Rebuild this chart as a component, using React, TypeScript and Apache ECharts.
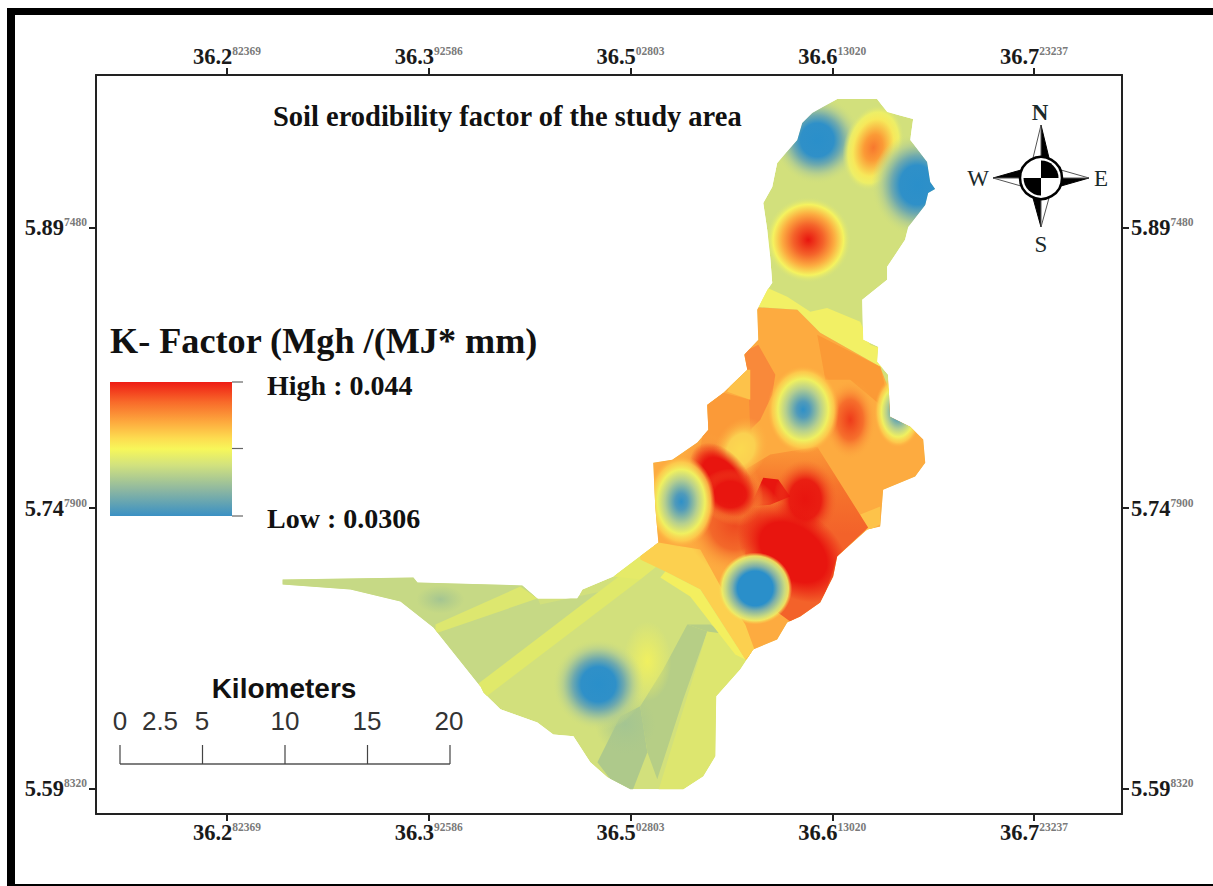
import React, { useEffect, useRef } from "react";
import * as echarts from "echarts";

const lonMin = 36.21078, lonMax = 36.77129, latMin = 5.58472, latMax = 5.97907;
const xTicks = [36.282369, 36.392586, 36.502803, 36.61302, 36.723237];
const xMain = ["36.2", "36.3", "36.5", "36.6", "36.7"];
const xSup = ["82369", "92586", "02803", "13020", "23237"];
const yTicks = [5.59832, 5.7479, 5.89748];
const yMain = ["5.59", "5.74", "5.89"];
const ySup = ["8320", "7900", "7480"];

const title = "Soil erodibility factor of the study area";
const legendTitle = "K- Factor (Mgh /(MJ* mm)";
const legendHigh = "High : 0.044";
const legendLow = "Low : 0.0306";
const scaleKm = [0, 2.5, 5, 10, 15, 20];

type P = [number, number];
const outline: P[] = [[36.6157,5.9662],[36.6375,5.9662],[36.643,5.9593],[36.6572,5.9556],[36.6556,5.9444],[36.6648,5.9327],[36.6665,5.922],[36.6692,5.9183],[36.6654,5.9161],[36.6638,5.9097],[36.6545,5.898],[36.6528,5.8911],[36.643,5.8767],[36.643,5.8698],[36.6294,5.8591],[36.6299,5.8378],[36.6381,5.834],[36.6375,5.8261],[36.6435,5.8191],[36.6446,5.7967],[36.6556,5.7914],[36.6627,5.7845],[36.6638,5.7722],[36.6583,5.7648],[36.6408,5.7578],[36.6392,5.7381],[36.6321,5.7365],[36.6157,5.7221],[36.6135,5.7115],[36.6064,5.6976],[36.5955,5.6901],[36.5884,5.6869],[36.5829,5.6779],[36.5698,5.6725],[36.5627,5.6619],[36.5496,5.6475],[36.5491,5.6155],[36.5425,5.6049],[36.5316,5.5979],[36.5027,5.5979],[36.4901,5.6043],[36.4808,5.6123],[36.4716,5.6262],[36.4606,5.6272],[36.4519,5.6336],[36.4317,5.6406],[36.4224,5.6496],[36.4208,5.6528],[36.3951,5.6843],[36.3771,5.6981],[36.3498,5.7045],[36.3127,5.7072],[36.3127,5.7099],[36.3842,5.7109],[36.3864,5.7083],[36.4437,5.7067],[36.4519,5.6997],[36.4737,5.6997],[36.4765,5.7045],[36.4934,5.7115],[36.518,5.7296],[36.5163,5.7488],[36.5152,5.7722],[36.5256,5.7738],[36.5393,5.7829],[36.5453,5.7898],[36.5447,5.8031],[36.5535,5.8095],[36.5666,5.8218],[36.5649,5.8298],[36.5726,5.8378],[36.572,5.8538],[36.5775,5.8644],[36.5802,5.8682],[36.5791,5.882],[36.5775,5.8964],[36.5753,5.9108],[36.5802,5.9193],[36.5829,5.9321],[36.5939,5.9444],[36.5966,5.9534],[36.6021,5.9588]];

const yellowBand: P[] = [[36.5737,5.8671],[36.5884,5.8607],[36.601,5.8527],[36.6102,5.8548],[36.6283,5.8474],[36.6337,5.8351],[36.6419,5.8324],[36.6419,5.8218],[36.6392,5.8234],[36.6064,5.8415],[36.5939,5.8538],[36.5709,5.8554]];
const midOrange: P[] = [[36.5682,5.8554],[36.5939,5.8538],[36.6064,5.8415],[36.6392,5.8234],[36.6501,5.7951],[36.6692,5.7845],[36.6665,5.7685],[36.6419,5.7525],[36.6392,5.7365],[36.6283,5.7205],[36.6119,5.6885],[36.5846,5.6725],[36.5655,5.6672],[36.5409,5.7099],[36.5109,5.7312],[36.5081,5.7791],[36.5409,5.8058],[36.5627,5.8378]];
const westMain: P[] = [[36.3061,5.7152],[36.4454,5.7152],[36.4535,5.6965],[36.4918,5.7045],[36.5081,5.7152],[36.4181,5.6512],[36.388,5.6779],[36.3443,5.6992],[36.3061,5.6992]];
const westWedge: P[] = [[36.3962,5.6859],[36.4426,5.7061],[36.4519,5.6997],[36.3962,5.6811]];
const diagBand: P[] = [[36.4197,5.6544],[36.5,5.7141],[36.5081,5.7099],[36.4235,5.647]];
const topPatch: P[] = [[36.4934,5.7115],[36.5136,5.7285],[36.5218,5.7205],[36.5081,5.7099]];
const strip1: P[] = [[36.4847,5.6123],[36.4918,5.6033],[36.5038,5.5969],[36.512,5.6177],[36.5081,5.6422],[36.4972,5.6368]];
const strip2: P[] = [[36.512,5.6177],[36.5174,5.6033],[36.5316,5.6459],[36.5447,5.6821],[36.5338,5.6859],[36.5207,5.6619],[36.5081,5.6422]];
const strip3: P[] = [[36.5338,5.6859],[36.5464,5.6859],[36.56,5.6779],[36.5447,5.6821]];
const eastLower: P[] = [[36.5174,5.5953],[36.5518,5.5953],[36.5546,5.6512],[36.5737,5.6672],[36.5611,5.68],[36.5447,5.6821]];
const swYellowOrange: P[] = [[36.5081,5.7312],[36.5409,5.7258],[36.5529,5.7045],[36.5655,5.6859],[36.5709,5.6715],[36.5655,5.6672],[36.5409,5.7045],[36.5218,5.7141],[36.5081,5.7205]];
const swYellow: P[] = [[36.5218,5.7141],[36.5409,5.7045],[36.5655,5.6672],[36.56,5.6699],[36.5354,5.7008],[36.5191,5.7109]];
const deepOrange: P[] = [[36.5655,5.7685],[36.5791,5.7765],[36.6048,5.7807],[36.6326,5.7376],[36.6157,5.7221],[36.6064,5.6939],[36.59,5.6875],[36.5737,5.6992],[36.5655,5.7205]];
const redWedge: P[] = [[36.5682,5.7488],[36.5753,5.7642],[36.5835,5.7632],[36.59,5.7541],[36.5791,5.7498]];
const westOrange: P[] = [[36.5447,5.8031],[36.5535,5.8095],[36.5682,5.8058],[36.5693,5.7818],[36.5409,5.7791]];
const leftStrip: P[] = [[36.5649,5.8314],[36.5726,5.8351],[36.5819,5.8191],[36.5802,5.8085],[36.5737,5.7951],[36.5682,5.7898],[36.5671,5.8165]];
const leftPale: P[] = [[36.5611,5.8218],[36.5682,5.8218],[36.5682,5.8058],[36.5556,5.8101]];
const eastDark: P[] = [[36.6048,5.8404],[36.6392,5.8234],[36.6457,5.7978],[36.6228,5.8165],[36.6092,5.8165]];
const eastCorner: P[] = [[36.6283,5.7445],[36.6392,5.7488],[36.6392,5.7392],[36.6315,5.7354]];

const deepFill = { type: "linear", x: 0, y: 0, x2: 0, y2: 1, colorStops: [{ offset: 0, color: "#fb9a38" }, { offset: 0.22, color: "#f6752c" }, { offset: 0.5, color: "#f3622a" }, { offset: 1, color: "#f3622a" }] };

const zones: { pts: P[]; color: any }[] = [
  { pts: westMain, color: "#c6d985" },
  { pts: westWedge, color: "#dde76f" },
  { pts: diagBand, color: "#e0e96a" },
  { pts: topPatch, color: "#e5ea68" },
  { pts: strip1, color: "#aec98b" },
  { pts: strip2, color: "#b6ce86" },
  { pts: strip3, color: "#b6ce86" },
  { pts: eastLower, color: "#dde66f" },
  { pts: yellowBand, color: "#f2f065" },
  { pts: midOrange, color: "#fdab40" },
  { pts: westOrange, color: "#fb9a38" },
  { pts: leftStrip, color: "#f9893a" },
  { pts: leftPale, color: "#fdc24a" },
  { pts: eastDark, color: "#fb9a36" },
  { pts: eastCorner, color: "#fdc34a" },
  { pts: swYellowOrange, color: "#fcd04f" },
  { pts: swYellow, color: "#f3ef5f" },
  { pts: deepOrange, color: deepFill },
];

const ramps: Record<string, [number, string][]> = {
  blueGreen: [[0, "#2a8fca"], [0.38, "#2f90c8"], [0.56, "#6ea9ae"], [0.76, "rgba(176,204,146,0.85)"], [1, "rgba(210,224,124,0)"]],
  blueOrange: [[0, "#2e90c8"], [0.18, "#4f9abb"], [0.48, "#b5cf8f"], [0.7, "#f0f060"], [0.86, "rgba(253,208,79,0.8)"], [1, "rgba(253,171,64,0)"]],
  strongBlue: [[0, "#2a8fca"], [0.48, "#2a8fca"], [0.62, "#7fb0a8"], [0.8, "#c9da80"], [0.9, "rgba(238,238,102,0.9)"], [1, "rgba(252,208,79,0)"]],
  redGreen: [[0, "#e8150f"], [0.35, "#f4622a"], [0.6, "#fcaa40"], [0.82, "#f5f35f"], [1, "rgba(210,224,124,0)"]],
  orangeGreen: [[0, "#f7782e"], [0.3, "#fb9a36"], [0.66, "#f7e85a"], [0.82, "rgba(242,241,99,0.85)"], [1, "rgba(210,224,124,0)"]],
  red: [[0, "#e8150f"], [0.5, "rgba(232,21,15,0.9)"], [1, "rgba(243,104,42,0)"]],
  redCore: [[0, "#e8150f"], [0.6, "#e8150f"], [1, "rgba(232,21,15,0)"]],
  deepSoft: [[0, "#ee4a20"], [0.5, "#f3682a"], [1, "rgba(253,171,64,0)"]],
  redOrange: [[0, "#ee3b1a"], [0.5, "#f66f2c"], [1, "rgba(253,171,64,0)"]],
  yellow: [[0, "#f0f060"], [1, "rgba(240,240,96,0)"]],
  yellowOrange: [[0, "#fbd950"], [0.5, "#fbd050"], [1, "rgba(253,171,64,0)"]],
  dull: [[0, "#a4c592"], [1, "rgba(170,200,140,0)"]],
};

// lon, lat, radius in lon degrees, radius in lat degrees, rotation, ramp
const blobs: [number, number, number, number, number, string][] = [
  [36.6048, 5.9444, 0.024, 0.0235, 0, "blueGreen"],
  [36.6354, 5.9401, 0.0164, 0.0235, -0.25, "orangeGreen"],
  [36.6594, 5.9204, 0.0251, 0.0277, 0, "blueGreen"],
  [36.5999, 5.8911, 0.0235, 0.023, 0, "redGreen"],
  [36.6228, 5.7951, 0.0142, 0.0213, 0, "redOrange"],
  [36.5971, 5.8005, 0.0197, 0.0235, 0, "blueOrange"],
  [36.649, 5.7994, 0.0131, 0.0192, 0, "blueOrange"],
  [36.56, 5.7392, 0.0273, 0.0267, 0, "deepSoft"],
  [36.5529, 5.7632, 0.0284, 0.0181, -0.93, "deepSoft"],
  [36.5627, 5.7791, 0.0142, 0.0181, -0.5, "yellowOrange"],
  [36.5529, 5.7632, 0.0229, 0.0139, -0.93, "redCore"],
  [36.5573, 5.7552, 0.0175, 0.0139, 0, "red"],
  [36.5982, 5.7525, 0.0175, 0.0213, 0, "red"],
  [36.5917, 5.7243, 0.0339, 0.0224, -0.65, "redCore"],
  [36.5305, 5.7514, 0.0186, 0.0245, 0, "blueOrange"],
  [36.5709, 5.7051, 0.0202, 0.0192, 0, "strongBlue"],
  [36.3989, 5.6992, 0.0131, 0.0075, 0, "dull"],
  [36.512, 5.6662, 0.0131, 0.0213, 0, "yellow"],
  [36.5, 5.6326, 0.0164, 0.016, 0, "dull"],
  [36.4852, 5.6539, 0.025, 0.0245, 0, "blueGreen"],
];

const supLabel = (main: string[], sup: string[], ticks: number[]) => (v: number) => {
  const i = ticks.findIndex((t) => Math.abs(t - v) < 1e-6);
  return i < 0 ? "" : `{m|${main[i]}}{s|${sup[i]}}`;
};
const rich = {
  m: { fontFamily: "Liberation Serif", fontWeight: "bold", fontSize: 22.5, color: "#1a1a1a" },
  s: { fontFamily: "Liberation Serif", fontWeight: "bold", fontSize: 11.5, color: "#7a7a7a", verticalAlign: "top" },
};
const lineStyle = { color: "#222", width: 2 };

function axis(kind: "x" | "y", position: string) {
  const ticks = kind === "x" ? xTicks : yTicks;
  return {
    type: "value", position,
    min: kind === "x" ? lonMin : latMin,
    max: kind === "x" ? lonMax : latMax,
    splitLine: { show: false },
    axisLine: { show: true, onZero: false, lineStyle },
    axisTick: { show: true, length: 7, lineStyle, customValues: ticks },
    axisLabel: {
      show: true, margin: kind === "x" ? 7 : 9,
      customValues: ticks,
      formatter: supLabel(kind === "x" ? xMain : yMain, kind === "x" ? xSup : ySup, ticks),
      rich,
    },
  };
}

const serif = "Liberation Serif";
const sans = "Liberation Sans";

function txt(text: string, x: number, y: number, size: number, family: string, weight: string, color = "#111", align = "left") {
  return { type: "text", x, y, silent: true, style: { text, fontSize: size, fontFamily: family, fontWeight: weight, fill: color, textAlign: align, textVerticalAlign: "middle" } };
}
function seg(x1: number, y1: number, x2: number, y2: number, color: string, w: number) {
  return { type: "line", shape: { x1, y1, x2, y2 }, style: { stroke: color, lineWidth: w } };
}
function rect(x: number, y: number, width: number, height: number, fill: any) {
  return { type: "rect", shape: { x, y, width, height }, style: { fill } };
}
function poly(points: number[][], fill: string, stroke?: string) {
  return { type: "polygon", shape: { points }, style: { fill, stroke: stroke ?? fill, lineWidth: 1 } };
}

function compass() {
  const cx = 1041, cy = 178, a = 8;
  const parts: any[] = [
    poly([[cx, 125], [cx + a, cy - 20], [cx, cy - 20]], "#000"),
    poly([[cx, 125], [cx - a, cy - 20], [cx, cy - 20]], "#fff", "#555"),
    poly([[cx, 227], [cx - a, cy + 20], [cx, cy + 20]], "#000"),
    poly([[cx, 227], [cx + a, cy + 20], [cx, cy + 20]], "#fff", "#555"),
    poly([[1089, cy], [cx + 20, cy + a], [cx + 20, cy]], "#000"),
    poly([[1089, cy], [cx + 20, cy - a], [cx + 20, cy]], "#fff", "#555"),
    poly([[993, cy], [cx - 20, cy - a], [cx - 20, cy]], "#000"),
    poly([[993, cy], [cx - 20, cy + a], [cx - 20, cy]], "#fff", "#555"),
    { type: "circle", shape: { cx, cy, r: 21 }, style: { fill: "#fff", stroke: "#000", lineWidth: 2.5 } },
    { type: "sector", shape: { cx, cy, r: 17.5, r0: 0, startAngle: -Math.PI / 2, endAngle: 0, clockwise: true }, style: { fill: "#000" } },
    { type: "sector", shape: { cx, cy, r: 17.5, r0: 0, startAngle: Math.PI / 2, endAngle: Math.PI, clockwise: true }, style: { fill: "#000" } },
    txt("N", 1040, 112, 23, serif, "bold", "#1a2a2a", "center"),
    txt("S", 1041, 244, 23, serif, "normal", "#1a2a2a", "center"),
    txt("W", 978, 178, 23, serif, "normal", "#1a2a2a", "center"),
    txt("E", 1101, 178, 23, serif, "normal", "#1a2a2a", "center"),
  ];
  return parts;
}

function scaleBar() {
  const xs = [120, 202.5, 285, 367.5, 450];
  const labelX = [120, 160, 202, 285, 367, 449];
  const out: any[] = [seg(120, 764, 450, 764, "#555", 1.5)];
  xs.forEach((x) => out.push(seg(x, 745, x, 764, "#444", 1.2)));
  scaleKm.forEach((k, i) => out.push(txt(String(k), labelX[i], 721, 26, sans, "normal", "#333", "center")));
  out.push(txt("Kilometers", 284, 688, 28, sans, "bold", "#111", "center"));
  return out;
}

function legend() {
  const grad = new echarts.graphic.LinearGradient(0, 0, 0, 1, [
    { offset: 0, color: "#ee1c14" }, { offset: 0.15, color: "#f86a2a" }, { offset: 0.3, color: "#fdaa3e" },
    { offset: 0.42, color: "#fddc50" }, { offset: 0.5, color: "#f7f75a" }, { offset: 0.62, color: "#d2e27e" },
    { offset: 0.8, color: "#8fb8a0" }, { offset: 1, color: "#3a90c4" },
  ]);
  return [
    rect(110, 382, 122, 134, grad),
    seg(232, 382, 243, 382, "#666", 1.2), seg(232, 448.5, 243, 448.5, "#666", 1.2), seg(232, 516, 243, 516, "#666", 1.2),
    txt(legendTitle, 110, 341, 36.2, serif, "bold"),
    txt(legendHigh, 267, 385, 28, serif, "bold"),
    txt(legendLow, 267, 518, 28, serif, "bold"),
  ];
}

export default function App() {
  const ref = useRef<HTMLDivElement>(null);
  useEffect(() => {
    document.body.style.margin = "0";
    document.body.style.background = "#fff";
    document.body.style.overflow = "hidden";
    const chart = echarts.init(ref.current!, null, { renderer: "svg" });
    chart.setOption({
      animation: false,
      backgroundColor: "#fff",
      grid: { left: 96, top: 75, width: 1026, height: 739, containLabel: false },
      xAxis: [axis("x", "bottom"), axis("x", "top")],
      yAxis: [axis("y", "left"), axis("y", "right")],
      series: [{
        type: "custom", coordinateSystem: "cartesian2d", silent: true, clip: false,
        xAxisIndex: 0, yAxisIndex: 0,
        data: [[lonMin, latMin]],
        renderItem: (_: any, api: any) => {
          const c = (p: P) => api.coord(p);
          const outer = outline.map(c);
          const children: any[] = [
            { type: "polygon", shape: { points: outer }, style: { fill: "#d2e07c" } },
          ];
          zones.forEach((z) => children.push({ type: "polygon", shape: { points: z.pts.map(c) }, style: { fill: z.color } }));
          children.push({ type: "polygon", shape: { points: redWedge.map(c) }, style: { fill: "#e8150f" } });
          blobs.forEach(([lon, lat, rLon, rLat, rot, ramp]) => {
            const [cx, cy] = api.coord([lon, lat]);
            const [rx, ry] = api.size([rLon, rLat], [lon, lat]);
            children.push({
              type: "ellipse", originX: cx, originY: cy, rotation: rot,
              shape: { cx, cy, rx, ry },
              style: { fill: { type: "radial", x: 0.5, y: 0.5, r: 0.5, colorStops: ramps[ramp].map(([offset, color]) => ({ offset, color })) } },
            });
          });
          return { type: "group", clipPath: { type: "polygon", shape: { points: outer } }, children };
        },
      }],
      graphic: [
        rect(7, 8, 1206, 7, "#000"), rect(7, 8, 8, 878, "#000"), rect(7, 884, 1206, 2, "#000"),
        txt(title, 273, 116, 28.5, serif, "bold"),
        ...legend(), ...scaleBar(), ...compass(),
      ],
    });
    return () => chart.dispose();
  }, []);
  return <div ref={ref} style={{ width: 1213, height: 886 }} />;
}
